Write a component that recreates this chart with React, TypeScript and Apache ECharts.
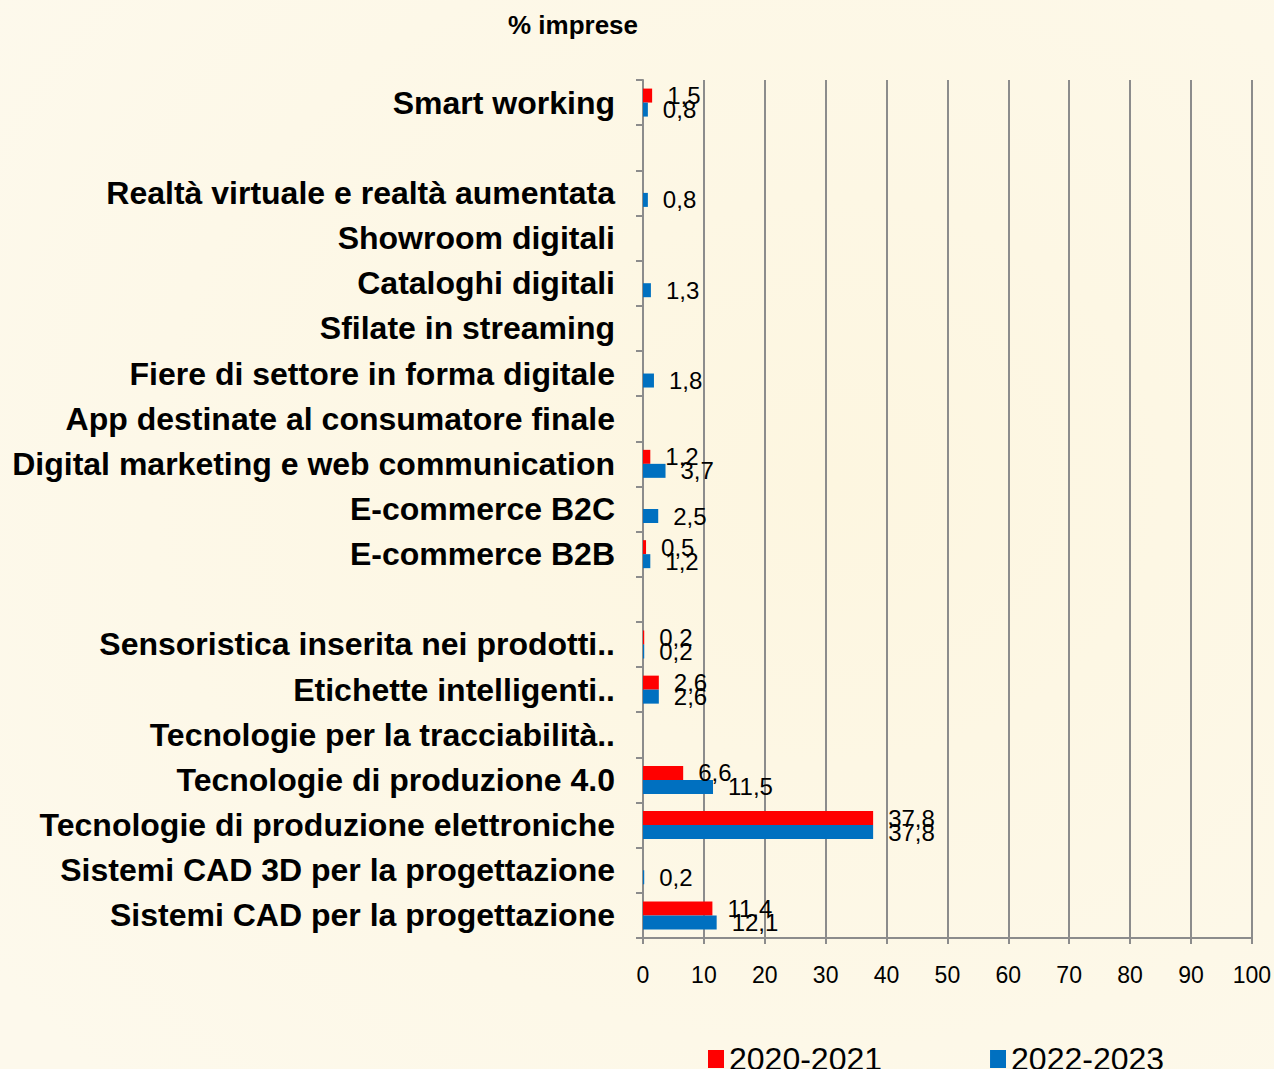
import React, { useEffect, useRef } from "react";
import * as echarts from "echarts";

const categories: string[] = [
  "Smart working",
  "",
  "Realtà virtuale e realtà aumentata",
  "Showroom digitali",
  "Cataloghi digitali",
  "Sfilate in streaming",
  "Fiere di settore in forma digitale",
  "App destinate al consumatore finale",
  "Digital marketing e web communication",
  "E-commerce B2C",
  "E-commerce B2B",
  " ",
  "Sensoristica inserita nei prodotti..",
  "Etichette intelligenti..",
  "Tecnologie per la tracciabilità..",
  "Tecnologie di produzione 4.0",
  "Tecnologie di produzione elettroniche",
  "Sistemi CAD 3D per la progettazione",
  "Sistemi CAD per la progettazione",
];

const series2020: (number | null)[] = [
  1.5, null, null, null, null, null, null, null, 1.2, null, 0.5, null, 0.2, 2.6, null, 6.6, 37.8, null, 11.4,
];

const series2022: (number | null)[] = [
  0.8, null, 0.8, null, 1.3, null, 1.8, null, 3.7, 2.5, 1.2, null, 0.2, 2.6, null, 11.5, 37.8, 0.2, 12.1,
];

const seriesNames = ["2020-2021", "2022-2023"];
const xTicks = { min: 0, max: 100, interval: 10 };
const titleText = "% imprese";

const SANS = '"Liberation Sans", Arial, Helvetica, sans-serif';

export default function App() {
  const ref = useRef<HTMLDivElement>(null);

  useEffect(() => {
    document.body.style.margin = "0";
    if (!ref.current) return;
    const chart = echarts.init(ref.current, null, { renderer: "svg", width: 1274, height: 1069 });
    const fmt = (p: any) =>
      p.value == null ? "" : Number(p.value).toFixed(1).replace(".", ",");
    const labelCfg = {
      show: true,
      position: "right",
      distance: 15,
      fontSize: 24,
      fontFamily: SANS,
      color: "#000",
      formatter: fmt,
    };
    chart.setOption({
      animation: false,
      backgroundColor: {
        type: "radial",
        x: 0.65,
        y: 0.45,
        r: 0.8,
        colorStops: [
          { offset: 0, color: "#fdf6e0" },
          { offset: 1, color: "#fdf9ec" },
        ],
      },
      graphic: [
        {
          type: "text",
          x: 573,
          y: 25,
          style: {
            text: titleText,
            font: `bold 26px ${SANS}`,
            fill: "#000",
            textAlign: "center",
            textVerticalAlign: "middle",
          },
        },
      ],
      legend: {
        left: 703,
        top: 1038,
        itemGap: 108,
        itemWidth: 16,
        itemHeight: 18,
        icon: "rect",
        textStyle: { fontSize: 32, fontFamily: SANS, color: "#000" },
        data: seriesNames,
      },
      grid: { left: 643, right: 20, top: 80, height: 858, containLabel: false },
      xAxis: {
        type: "value",
        min: xTicks.min,
        max: xTicks.max,
        interval: xTicks.interval,
        axisLine: { show: true, lineStyle: { color: "#8c8c8c", width: 2 } },
        axisTick: { show: true, length: 6, lineStyle: { color: "#8c8c8c", width: 2 } },
        splitLine: { show: true, lineStyle: { color: "#8c8c8c", width: 2 } },
        axisLabel: { fontSize: 23, fontFamily: SANS, color: "#000", margin: 25 },
      },
      yAxis: {
        type: "category",
        inverse: true,
        data: categories,
        axisLine: { show: true, lineStyle: { color: "#8c8c8c", width: 2 } },
        axisTick: { show: true, length: 7, lineStyle: { color: "#8c8c8c", width: 2 } },
        axisLabel: {
          fontSize: 32,
          fontWeight: "bold",
          fontFamily: SANS,
          color: "#000",
          margin: 28,
        },
      },
      series: [
        {
          name: seriesNames[0],
          type: "bar",
          data: series2020,
          barWidth: 14,
          barGap: "0%",
          itemStyle: { color: "#ff0000" },
          label: labelCfg,
        },
        {
          name: seriesNames[1],
          type: "bar",
          data: series2022,
          barWidth: 14,
          barGap: "0%",
          itemStyle: { color: "#0070c0" },
          label: labelCfg,
        },
      ],
    });
    return () => chart.dispose();
  }, []);

  return (
    <div
      ref={ref}
      style={{ position: "absolute", left: 0, top: 0, width: 1274, height: 1069 }}
    />
  );
}
